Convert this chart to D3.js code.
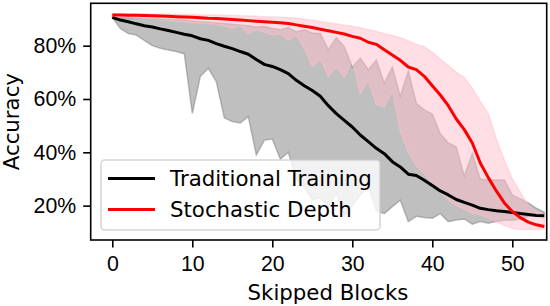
<!DOCTYPE html>
<meta charset="utf-8">
<style>
body { margin: 0; background: #fff; }
svg { font-family: "DejaVu Sans", sans-serif; }
.axis text { font-size: 21.3px; fill: #000; }
.axis line { stroke: #000; stroke-width: 1.6px; }
.axis path { display: none; }
</style>
<svg width="550" height="306"></svg>
<script src="https://d3js.org/d3.v7.min.js"></script>
<script>
// number of skipped blocks (x)
var blocks = [0, 1, 2, 3, 4, 5, 6, 7, 8, 9, 10, 11, 12, 13, 14, 15, 16, 17, 18, 19,
  20, 21, 22, 23, 24, 25, 26, 27, 28, 29, 30, 31, 32, 33, 34, 35, 36, 37, 38, 39,
  40, 41, 42, 43, 44, 45, 46, 47, 48, 49, 50, 51, 52, 53, 54];

// traditional training: mean, max, min accuracy (%)
var tradMean = [90.6, 89.6, 89.0, 88.2, 87.5, 87.0, 86.3, 85.7, 85.0, 84.3, 83.7, 82.6, 82.0, 80.8, 79.8, 78.9, 77.8, 76.8, 74.8, 73.0,
  72.2, 71.0, 69.5, 67.0, 65.0, 63.2, 61.0, 57.5, 54.5, 52.0, 49.5, 46.5, 44.0, 41.5, 39.5, 36.5, 34.5, 31.8, 31.3, 29.5,
  27.5, 25.5, 24.0, 22.3, 21.2, 20.2, 19.0, 18.5, 18.1, 17.8, 17.4, 17.0, 16.7, 16.3, 16.2];
var tradMax = [90.6, 90.6, 90.5, 90.4, 90.3, 90.2, 90.0, 89.9, 89.7, 89.5, 89.3, 89.0, 88.8, 88.6, 88.3, 88.0, 87.8, 87.5, 87.0, 87.3,
  86.5, 86.0, 86.8, 85.2, 86.0, 84.8, 84.6, 78.5, 83.0, 79.6, 72.0, 75.3, 71.0, 74.6, 66.0, 72.0, 61.0, 70.5, 58.4, 55.9,
  54.4, 47.0, 43.5, 42.0, 31.0, 39.6, 30.0, 29.6, 29.6, 29.6, 24.0, 22.5, 21.0, 19.0, 17.5];
var tradMin = [90.6, 86.5, 84.6, 84.0, 82.0, 80.0, 79.0, 78.4, 77.8, 77.0, 54.6, 68.4, 71.5, 66.5, 53.0, 51.5, 51.0, 53.4, 39.0, 44.5,
  45.0, 37.5, 40.0, 30.0, 27.0, 22.0, 23.0, 19.6, 24.7, 16.0, 20.0, 24.0, 27.0, 18.0, 17.0, 19.6, 22.0, 14.0, 16.0, 15.5,
  15.3, 17.0, 14.0, 14.6, 15.0, 13.0, 14.0, 13.4, 14.0, 14.5, 14.5, 15.0, 15.9, 16.5, 16.8];

// stochastic depth: mean, max, min accuracy (%)
var stochMean = [91.5, 91.5, 91.4, 91.4, 91.3, 91.2, 91.1, 91.0, 90.9, 90.8, 90.7, 90.5, 90.3, 90.2, 90.0, 89.8, 89.6, 89.4, 89.2, 89.0,
  88.8, 88.6, 88.3, 87.8, 87.3, 86.8, 86.2, 85.6, 85.0, 84.4, 83.5, 82.8, 81.3, 80.5, 78.5, 76.5, 74.5, 72.0, 71.0, 68.5,
  65.0, 61.5, 57.5, 52.5, 48.5, 43.5, 36.0, 30.5, 25.5, 21.0, 17.8, 15.5, 13.8, 12.8, 12.2];
var stochMax = [92.0, 92.0, 92.0, 92.0, 91.9, 91.9, 91.9, 91.8, 91.8, 91.7, 91.7, 91.6, 91.5, 91.5, 91.4, 91.3, 91.2, 91.1, 91.0, 90.9,
  90.8, 90.7, 90.5, 90.3, 89.9, 89.5, 89.1, 88.6, 88.2, 87.7, 87.3, 86.7, 86.0, 85.3, 84.5, 83.8, 83.0, 81.8, 80.5, 79.6,
  77.5, 75.0, 72.5, 70.0, 68.0, 64.0, 59.0, 54.5, 45.0, 37.0, 30.0, 25.0, 20.0, 18.0, 16.5];
var stochMin = [91.2, 91.0, 90.8, 90.5, 90.3, 90.0, 89.8, 89.5, 89.2, 89.0, 88.7, 88.5, 88.2, 88.0, 87.5, 86.5, 87.5, 84.5, 86.0, 85.0,
  84.0, 84.5, 82.0, 84.0, 79.0, 72.0, 75.0, 68.5, 72.0, 68.0, 74.5, 62.0, 67.0, 58.0, 57.0, 63.0, 48.0, 40.0, 35.0, 32.0,
  28.0, 25.0, 22.0, 20.0, 18.5, 17.0, 16.5, 15.5, 14.0, 12.5, 11.5, 11.0, 11.0, 11.0, 11.2];

var xTicks = [0, 10, 20, 30, 40, 50];
var yTicks = [20, 40, 60, 80];
var seriesNames = ["Traditional Training", "Stochastic Depth"];
var seriesColors = ["#000000", "#ff0000"];

var svg = d3.select("svg");
var mLeft = 90.7, mRight = 546.7, mTop = 3.3, mBottom = 240;

var x = d3.scaleLinear().domain([-2.7, 54.3]).range([mLeft, mRight]);
var y = d3.scaleLinear().domain([7.1, 95.9]).range([mBottom, mTop]);

var plot = svg.append("g");

function band(lo, hi) {
  return d3.area()
    .x(function(d, i) { return x(blocks[i]); })
    .y0(function(d, i) { return y(lo[i]); })
    .y1(function(d, i) { return y(hi[i]); })(blocks);
}
function line(vals) {
  return d3.line()
    .x(function(d, i) { return x(blocks[i]); })
    .y(function(d, i) { return y(vals[i]); })(blocks);
}

// min/max bands
plot.append("path")
    .attr("d", band(tradMin, tradMax))
    .attr("fill", "gray").attr("fill-opacity", 0.5)
    .attr("stroke", "gray").attr("stroke-opacity", 0.5).attr("stroke-width", 1.5);
plot.append("path")
    .attr("d", band(stochMin, stochMax))
    .attr("fill", "pink").attr("fill-opacity", 0.5)
    .attr("stroke", "pink").attr("stroke-opacity", 0.5).attr("stroke-width", 1.5);

// mean lines
[tradMean, stochMean].forEach(function(vals, k) {
  plot.append("path")
      .attr("d", line(vals))
      .attr("fill", "none")
      .attr("stroke", seriesColors[k])
      .attr("stroke-width", 3)
      .attr("stroke-linejoin", "round");
});

// axes
svg.append("g")
    .attr("class", "axis")
    .attr("transform", "translate(0," + mBottom + ")")
    .call(d3.axisBottom(x).tickValues(xTicks).tickSize(7.5).tickPadding(8.5));
svg.append("g")
    .attr("class", "axis")
    .attr("transform", "translate(" + mLeft + ",0)")
    .call(d3.axisLeft(y).tickValues(yTicks).tickSize(7.5).tickPadding(7)
      .tickFormat(function(d) { return d + "%"; }));

svg.append("rect")
    .attr("x", mLeft).attr("y", mTop)
    .attr("width", mRight - mLeft).attr("height", mBottom - mTop)
    .attr("fill", "none").attr("stroke", "#000").attr("stroke-width", 1.6);

svg.append("text")
    .attr("x", 328).attr("y", 300)
    .attr("text-anchor", "middle")
    .style("font-size", "21.3px")
    .text("Skipped Blocks");
svg.append("text")
    .attr("transform", "translate(19," + ((mTop + mBottom) / 2) + ") rotate(-90)")
    .attr("text-anchor", "middle")
    .style("font-size", "21.3px")
    .text("Accuracy");

// legend
var legend = svg.append("g");
legend.append("rect")
    .attr("x", 101).attr("y", 160).attr("width", 279).attr("height", 70).attr("rx", 4)
    .attr("fill", "#fff").attr("fill-opacity", 0.8)
    .attr("stroke", "#ccc").attr("stroke-opacity", 0.8).attr("stroke-width", 1.6);
seriesNames.forEach(function(name, k) {
  var ly = 178.5 + k * 31;
  legend.append("line")
      .attr("x1", 108).attr("x2", 155).attr("y1", ly).attr("y2", ly)
      .attr("stroke", seriesColors[k]).attr("stroke-width", 3);
  legend.append("text")
      .attr("x", 170).attr("y", ly).attr("dy", "0.36em")
      .style("font-size", "21.3px")
      .text(name);
});
</script>
